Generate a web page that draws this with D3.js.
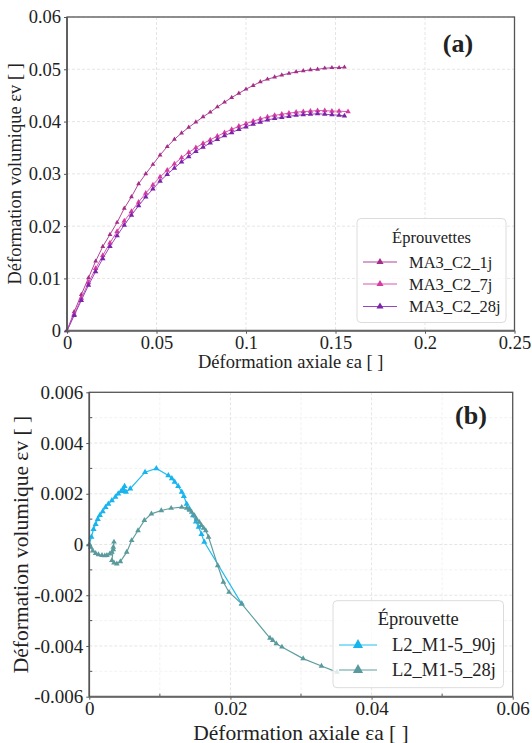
<!DOCTYPE html>
<html><head><meta charset="utf-8">
<script src="https://cdn.jsdelivr.net/npm/d3@7"></script>
<style>body{margin:0;background:#fff}svg{display:block}text{font-family:"Liberation Serif","DejaVu Serif","Times New Roman",serif;fill:#222}</style>
</head><body>
<svg id="c" width="532" height="743"></svg>
<script>
// ---------- Chart (a) data ----------
const seriesA = ["MA3_C2_1j","MA3_C2_7j","MA3_C2_28j"];
const a1jX = [0,0.004,0.008,0.012,0.016,0.020,0.024,0.028,0.032,0.036,0.040,0.044,0.048,0.052,0.056,0.060,0.064,0.068,0.072,0.076,0.080,0.084,0.088,0.092,0.096,0.100,0.104,0.108,0.112,0.116,0.120,0.124,0.128,0.132,0.136,0.140,0.144,0.148,0.152,0.155];
const a1jY = [0,0.0036,0.0069,0.0101,0.0133,0.0161,0.0184,0.0207,0.0234,0.0256,0.0281,0.0300,0.0318,0.0336,0.0352,0.0366,0.0378,0.0389,0.0399,0.0409,0.0418,0.0428,0.0437,0.0446,0.0454,0.0462,0.0469,0.0476,0.0481,0.0485,0.0489,0.0492,0.0495,0.0497,0.0499,0.0500,0.0502,0.0503,0.0503,0.0504];
const a7jX = [0,0.004,0.008,0.012,0.016,0.020,0.024,0.028,0.032,0.036,0.040,0.044,0.048,0.052,0.056,0.060,0.064,0.068,0.072,0.076,0.080,0.084,0.088,0.092,0.096,0.100,0.104,0.108,0.112,0.116,0.120,0.124,0.128,0.132,0.136,0.140,0.144,0.148,0.152,0.157];
const a7jY = [0,0.0031,0.0062,0.0092,0.0119,0.0144,0.0168,0.0190,0.0210,0.0228,0.0246,0.0263,0.0279,0.0294,0.0307,0.0319,0.0331,0.0341,0.0350,0.0358,0.0365,0.0372,0.0379,0.0385,0.0391,0.0396,0.0401,0.0405,0.0409,0.0412,0.0414,0.0416,0.0418,0.0419,0.0420,0.0421,0.0421,0.0420,0.0420,0.0419];
const a28jX = [0,0.004,0.008,0.012,0.016,0.020,0.024,0.028,0.032,0.036,0.040,0.044,0.048,0.052,0.056,0.060,0.064,0.068,0.072,0.076,0.080,0.084,0.088,0.092,0.096,0.100,0.104,0.108,0.112,0.116,0.120,0.124,0.128,0.132,0.136,0.140,0.144,0.148,0.152,0.155];
const a28jY = [0,0.0029,0.0058,0.0087,0.0113,0.0138,0.0161,0.0182,0.0202,0.0221,0.0239,0.0256,0.0271,0.0286,0.0299,0.0311,0.0323,0.0333,0.0343,0.0351,0.0359,0.0366,0.0373,0.0379,0.0385,0.0390,0.0395,0.0399,0.0403,0.0406,0.0408,0.0410,0.0412,0.0413,0.0414,0.0415,0.0414,0.0413,0.0412,0.0411];
const xTicksA = [0,0.05,0.1,0.15,0.2,0.25];
const xTickLabelsA = ["0","0.05","0.1","0.15","0.2","0.25"];
const yTicksA = [0,0.01,0.02,0.03,0.04,0.05,0.06];
const yTickLabelsA = ["0","0.01","0.02","0.03","0.04","0.05","0.06"];

// ---------- Chart (b) data ----------
const seriesB = ["L2_M1-5_90j","L2_M1-5_28j"];
const b90jX = [0,0.0003,0.0006,0.0009,0.0012,0.0015,0.0019,0.0023,0.0027,0.0032,0.0037,0.0041,0.0045,0.0048,0.0050,0.0049,0.0052,0.0058,0.0079,0.0095,0.0112,0.0117,0.0121,0.0126,0.0131,0.0134,0.0138,0.0142,0.0147,0.0151,0.0155,0.0159,0.0163,0.0216];
const b90jY = [0,0.0003,0.0006,0.0008,0.0010,0.00115,0.0013,0.00147,0.0016,0.00173,0.00187,0.0020,0.0021,0.0022,0.0023,0.0021,0.00207,0.0022,0.00285,0.0030,0.00272,0.0026,0.00246,0.0023,0.00207,0.0019,0.0016,0.0014,0.00114,0.0009,0.00069,0.0004,0.0001,-0.00234];
const b28jX = [0,0.0002,0.0005,0.0009,0.0013,0.0018,0.0022,0.0025,0.0029,0.0032,0.0034,0.0035,0.0034,0.0032,0.0035,0.0039,0.0044,0.0053,0.0060,0.0069,0.0078,0.0088,0.0102,0.0116,0.0131,0.0138,0.0142,0.0145,0.0149,0.0152,0.0156,0.0159,0.0162,0.0165,0.0169,0.0182,0.0190,0.0198,0.0216,0.0256,0.0260,0.0265,0.0273,0.0303,0.0329,0.0351];
const b28jY = [0,-0.0001,-0.00025,-0.00035,-0.0004,-0.00043,-0.00044,-0.00043,-0.00037,-0.0003,-0.0001,0.0001,-0.0002,-0.00063,-0.00072,-0.00076,-0.00067,-0.0003,0.00016,0.00055,0.00095,0.00121,0.00134,0.00143,0.00147,0.00143,0.00136,0.00128,0.00114,0.0010,0.00088,0.00075,0.00065,0.00055,0.00029,-0.00083,-0.00148,-0.00188,-0.00234,-0.00369,-0.00378,-0.00391,-0.00404,-0.0045,-0.00479,-0.00503];
const xTicksB = [0,0.02,0.04,0.06];
const xTickLabelsB = ["0","0.02","0.04","0.06"];
const yTicksB = [-0.006,-0.004,-0.002,0,0.002,0.004,0.006];
const yTickLabelsB = ["-0.006","-0.004","-0.002","0","0.002","0.004","0.006"];
const xMinorB = [0.01,0.03,0.05];
const yMinorB = [-0.005,-0.003,-0.001,0.001,0.003,0.005];

const FONT = '"Liberation Serif","DejaVu Serif","Times New Roman",serif';
const svg = d3.select("#c");
const zip = (xs, ys) => xs.map((x,i)=>[x, ys[i]]);

function drawPanel(cfg){
  const g = svg.append("g");
  const x = d3.scaleLinear().domain(cfg.xDom).range([cfg.left, cfg.right]);
  const y = d3.scaleLinear().domain(cfg.yDom).range([cfg.bottom, cfg.top]);
  if (cfg.xMinor){
    g.selectAll(null).data(cfg.xMinor).join("line")
      .attr("x1",d=>x(d)).attr("x2",d=>x(d)).attr("y1",cfg.top).attr("y2",cfg.bottom)
      .attr("stroke","#efefef").attr("stroke-width",0.8).attr("stroke-dasharray","3,2");
    g.selectAll(null).data(cfg.yMinor).join("line")
      .attr("y1",d=>y(d)).attr("y2",d=>y(d)).attr("x1",cfg.left).attr("x2",cfg.right)
      .attr("stroke","#efefef").attr("stroke-width",0.8).attr("stroke-dasharray","3,2");
  }
  g.selectAll(null).data(cfg.xTicks).join("line")
    .attr("x1",d=>x(d)).attr("x2",d=>x(d)).attr("y1",cfg.top).attr("y2",cfg.bottom)
    .attr("stroke","#e2e2e2").attr("stroke-width",0.9).attr("stroke-dasharray","3,2");
  g.selectAll(null).data(cfg.yTicks).join("line")
    .attr("y1",d=>y(d)).attr("y2",d=>y(d)).attr("x1",cfg.left).attr("x2",cfg.right)
    .attr("stroke","#e2e2e2").attr("stroke-width",0.9).attr("stroke-dasharray","3,2");

  cfg.series.forEach(s=>{
    const pts = zip(s.xs, s.ys);
    g.append("path").datum(pts)
      .attr("d", d3.line().x(d=>x(d[0])).y(d=>y(d[1])))
      .attr("fill","none").attr("stroke",s.line).attr("stroke-width",s.lw||1);
    g.selectAll(null).data(pts).join("path")
      .attr("d", d3.symbol(d3.symbolTriangle, s.msize))
      .attr("transform", d=>`translate(${x(d[0])},${y(d[1])})`)
      .attr("fill", s.marker);
  });

  const ax = d3.axisBottom(x).tickValues(cfg.xTicks).tickFormat((d,i)=>cfg.xLabels[i]).tickSize(3).tickPadding(cfg.xPad);
  const ay = d3.axisLeft(y).tickValues(cfg.yTicks).tickFormat((d,i)=>cfg.yLabels[i]).tickSize(3).tickPadding(3);
  const gx = g.append("g").attr("transform",`translate(0,${cfg.bottom})`).call(ax);
  const gy = g.append("g").attr("transform",`translate(${cfg.left},0)`).call(ay);
  [gx,gy].forEach(a=>{
    a.attr("font-family",null);
    a.select(".domain").remove();
    a.selectAll("line").attr("stroke","#555");
    a.selectAll("text").style("font-family",FONT).attr("font-size",cfg.tickFs).attr("fill","#222");
  });
  if (cfg.xMinor){
    g.selectAll(null).data(cfg.xMinor).join("line")
      .attr("x1",d=>x(d)).attr("x2",d=>x(d)).attr("y1",cfg.bottom).attr("y2",cfg.bottom-3).attr("stroke","#555");
    g.selectAll(null).data(cfg.yMinor).join("line")
      .attr("y1",d=>y(d)).attr("y2",d=>y(d)).attr("x1",cfg.left).attr("x2",cfg.left+3).attr("stroke","#555");
  }
  g.append("rect").attr("x",cfg.left).attr("y",cfg.top).attr("width",cfg.right-cfg.left).attr("height",cfg.bottom-cfg.top)
    .attr("fill","none").attr("stroke","#555").attr("stroke-width",1.3);
  g.append("line").attr("x1",cfg.left).attr("x2",cfg.right).attr("y1",cfg.bottom).attr("y2",cfg.bottom).attr("stroke","#666").attr("stroke-width",2);
  g.append("line").attr("x1",cfg.left).attr("x2",cfg.left).attr("y1",cfg.top).attr("y2",cfg.bottom).attr("stroke","#555").attr("stroke-width",1.6);

  g.append("text").attr("x",(cfg.left+cfg.right)/2).attr("y",cfg.xTitleY).attr("text-anchor","middle")
    .attr("font-size",cfg.titleFs).text("Déformation axiale εa [ ]");
  g.append("text").attr("transform",`translate(${cfg.yTitleX},${(cfg.top+cfg.bottom)/2}) rotate(-90)`).attr("text-anchor","middle")
    .attr("font-size",cfg.titleFs).text("Déformation volumique εv [ ]");
  g.append("text").attr("x",cfg.tagX).attr("y",cfg.tagY).attr("text-anchor","middle")
    .attr("font-size",26).attr("font-weight","bold").attr("fill","#111").text(cfg.tag);

  const L = cfg.legend;
  const lg = g.append("g");
  lg.append("rect").attr("x",L.x).attr("y",L.y).attr("width",L.w).attr("height",L.h).attr("rx",4)
    .attr("fill","#fff").attr("fill-opacity",0.8).attr("stroke","#dcdcdc").attr("stroke-width",1);
  lg.append("text").attr("x",L.x+L.w/2).attr("y",L.titleY).attr("text-anchor","middle").attr("font-size",L.fs).text(L.title);
  cfg.series.forEach((s,i)=>{
    const yy = L.rowY[i];
    lg.append("line").attr("x1",L.lx1).attr("x2",L.lx2).attr("y1",yy).attr("y2",yy).attr("stroke",s.line).attr("stroke-width",1.2);
    lg.append("path").attr("d",d3.symbol(d3.symbolTriangle,L.msize)).attr("transform",`translate(${(L.lx1+L.lx2)/2},${yy})`).attr("fill",s.marker);
    lg.append("text").attr("x",L.tx).attr("y",yy+5.5).attr("font-size",L.fs).text(s.name);
  });
}

drawPanel({
  left:67, right:514.5, top:17, bottom:330.7,
  xDom:[0,0.25], yDom:[0,0.06],
  xTicks:xTicksA, xLabels:xTickLabelsA, yTicks:yTicksA, yLabels:yTickLabelsA,
  tickFs:18.5, xPad:2.5, titleFs:18.5, xTitleY:368, yTitleX:21,
  tag:"(a)", tagX:458, tagY:52,
  series:[
    {name:seriesA[0], xs:a1jX, ys:a1jY, line:"#b0449a", marker:"#a52d87", msize:10, lw:1},
    {name:seriesA[1], xs:a7jX, ys:a7jY, line:"#dd55b5", marker:"#d43a9f", msize:13, lw:1},
    {name:seriesA[2], xs:a28jX, ys:a28jY, line:"#9a45c0", marker:"#7d22aa", msize:13, lw:1}
  ],
  legend:{x:357, y:218.5, w:149, h:104, title:"Éprouvettes", titleY:243, rowY:[262,284,306.5],
          lx1:363, lx2:397, tx:409, fs:16.5, msize:22}
});

drawPanel({
  left:89.3, right:512.7, top:392.3, bottom:696.7,
  xDom:[0,0.06], yDom:[-0.006,0.006],
  xTicks:xTicksB, xLabels:xTickLabelsB, yTicks:yTicksB, yLabels:yTickLabelsB,
  xMinor:xMinorB, yMinor:yMinorB,
  tickFs:19, xPad:1.5, titleFs:21.5, xTitleY:739.5, yTitleX:27.5,
  tag:"(b)", tagX:471, tagY:424,
  series:[
    {name:seriesB[0], xs:b90jX, ys:b90jY, line:"#22bdf0", marker:"#18b4ee", msize:16, lw:1.2},
    {name:seriesB[1], xs:b28jX, ys:b28jY, line:"#5f9ea0", marker:"#5a9a9c", msize:14, lw:1.2}
  ],
  legend:{x:333, y:600.7, w:170.5, h:87, title:"Éprouvette", titleY:625, rowY:[645,670],
          lx1:339, lx2:377, tx:392, fs:18.5, msize:45}
});
</script>
</body></html>
